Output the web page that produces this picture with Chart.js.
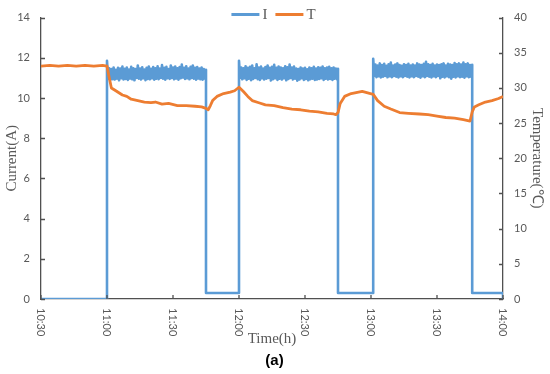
<!DOCTYPE html>
<html>
<head>
<meta charset="utf-8">
<script src="https://cdn.jsdelivr.net/npm/chart.js@4"></script>
<style>
html, body { margin: 0; padding: 0; background: #fff; }
#wrap { width: 550px; height: 374px; }
</style>
</head>
<body>
<div id="wrap"><canvas id="myChart"></canvas></div>
<script>
// x axis in minutes after midnight, 10:30 .. 14:00
var timeTicks = ['10:30', '11:00', '11:30', '12:00', '12:30', '13:00', '13:30', '14:00'];
var xMin = 630, xMax = 840;

// current (A): three on-bursts sampled every half minute, low level between them
var burstStarts = [660, 720, 781];
var sampleStep = 0.5;
var offLevel = 0.3;
var burst1 = [
  11.85, 10.95, 11.48, 10.90, 11.44, 10.94, 11.52, 10.92, 11.40, 10.96,
  11.50, 10.88, 11.46, 10.98, 11.56, 10.92, 11.45, 10.95, 11.52, 10.90,
  11.42, 10.97, 11.55, 10.93, 11.48, 10.88, 11.44, 11.00, 11.62, 10.96,
  11.46, 10.92, 11.53, 10.98, 11.42, 10.89, 11.50, 10.95, 11.57, 10.93,
  11.45, 10.98, 11.54, 10.91, 11.48, 10.96, 11.58, 10.94, 11.46, 11.00,
  11.64, 10.96, 11.50, 10.91, 11.55, 10.98, 11.44, 10.95, 11.62, 11.00,
  11.52, 10.93, 11.57, 10.97, 11.48, 10.91, 11.54, 10.98, 11.66, 11.02,
  11.50, 10.95, 11.58, 10.98, 11.46, 10.93, 11.55, 11.00, 11.62, 10.96,
  11.50, 10.91, 11.54, 10.97, 11.46, 10.93, 11.52, 10.91, 11.44, 10.96, 11.40
];
var burst2 = [
  11.85, 11.00, 11.52, 10.93, 11.48, 10.98, 11.58, 10.90, 11.50, 10.96,
  11.55, 10.89, 11.62, 10.95, 11.48, 11.00, 11.68, 10.94, 11.52, 10.90,
  11.56, 10.98, 11.46, 10.92, 11.54, 10.96, 11.62, 11.00, 11.50, 10.87,
  11.55, 10.94, 11.65, 10.98, 11.50, 10.90, 11.57, 10.96, 11.52, 10.92,
  11.48, 10.98, 11.58, 10.88, 11.53, 10.95, 11.66, 11.00, 11.51, 10.92,
  11.56, 10.96, 11.47, 10.86, 11.44, 10.92, 11.52, 10.98, 11.46, 10.90,
  11.50, 10.95, 11.43, 10.88, 11.52, 10.94, 11.48, 10.96, 11.55, 10.90,
  11.46, 10.92, 11.53, 10.95, 11.50, 10.98, 11.57, 10.90, 11.48, 10.96,
  11.52, 10.92, 11.55, 10.95, 11.48, 10.90, 11.52, 10.96, 11.46, 10.94, 11.45
];
var burst3 = [
  11.95, 11.10, 11.66, 11.04, 11.62, 11.08, 11.72, 11.02, 11.64, 11.06,
  11.70, 11.10, 11.60, 11.03, 11.68, 11.08, 11.76, 11.04, 11.62, 11.10,
  11.66, 11.06, 11.72, 11.02, 11.64, 11.08, 11.60, 11.04, 11.68, 11.10,
  11.64, 11.06, 11.70, 11.02, 11.62, 11.08, 11.67, 11.04, 11.62, 11.10,
  11.72, 11.06, 11.66, 11.01, 11.64, 11.08, 11.70, 11.04, 11.80, 11.10,
  11.68, 11.06, 11.64, 11.02, 11.70, 11.08, 11.62, 11.04, 11.67, 11.10,
  11.64, 10.98, 11.68, 11.06, 11.72, 11.02, 11.62, 11.08, 11.70, 11.04,
  11.66, 10.96, 11.64, 11.06, 11.74, 11.02, 11.68, 11.08, 11.72, 11.04,
  11.66, 11.06, 11.76, 11.01, 11.68, 11.08, 11.72, 11.04, 11.64, 11.06, 11.65
];

// temperature (deg C)
var tTimes = [630, 634, 638, 642, 646, 650, 654, 658, 660, 661, 662, 664, 667, 669, 671, 674, 677, 680, 682, 685,
  688, 692, 696, 700, 703, 705, 706, 707, 708, 710, 713, 716, 718, 720, 722, 724, 726, 729, 732, 736,
  740, 744, 748, 752, 756, 760, 763, 764, 765, 766, 768, 771, 776, 781, 783, 786, 789, 793, 797, 802,
  806, 810, 814, 818, 822, 825, 826, 827, 829, 832, 835, 838, 840];
var tVals = [33.1, 33.2, 33.1, 33.2, 33.1, 33.2, 33.1, 33.2, 33.1, 31.5, 30.0, 29.6, 29.0, 28.8, 28.4, 28.2, 28.0, 27.9, 28.0, 27.7,
  27.8, 27.5, 27.5, 27.4, 27.3, 27.1, 26.9, 27.5, 28.2, 28.8, 29.2, 29.4, 29.6, 30.1, 29.5, 28.8, 28.2, 27.9, 27.6, 27.5,
  27.2, 27.0, 26.9, 26.7, 26.6, 26.4, 26.3, 26.2, 26.5, 27.8, 28.8, 29.2, 29.5, 29.1, 28.2, 27.4, 27.0, 26.5, 26.4, 26.3,
  26.2, 26.0, 25.8, 25.7, 25.5, 25.3, 26.6, 27.3, 27.6, 28.0, 28.2, 28.5, 28.8];

var curTicks = [0, 2, 4, 6, 8, 10, 12, 14];
var tempTicks = [0, 5, 10, 15, 20, 25, 30, 35, 40];

var blue = '#5B9BD5', orange = '#ED7D31', axisGrey = '#505050', textGrey = '#595959';

function buildCurrent() {
  var pts = [{x: xMin, y: 0}, {x: burstStarts[0], y: 0}];
  var bursts = [burst1, burst2, burst3];
  for (var b = 0; b < bursts.length; b++) {
    var s = burstStarts[b];
    if (b > 0) pts.push({x: s, y: offLevel});
    for (var k = 0; k < bursts[b].length; k++) {
      pts.push({x: s + k * sampleStep, y: bursts[b][k]});
    }
    pts.push({x: s + (bursts[b].length - 1) * sampleStep, y: offLevel});
  }
  pts.push({x: xMax, y: offLevel});
  pts.push({x: xMax, y: 0});
  return pts;
}

function buildTemp() {
  return tTimes.map(function (t, i) { return {x: t, y: tVals[i]}; });
}

var overlay = {
  id: 'overlay',
  afterDraw: function (chart) {
    var ctx = chart.ctx, area = chart.chartArea;
    var xs = chart.scales.x, yl = chart.scales.y, yr = chart.scales.y1;
    ctx.save();
    // inside tick marks
    ctx.strokeStyle = axisGrey;
    ctx.lineWidth = 1.3;
    ctx.beginPath();
    curTicks.forEach(function (v) {
      var y = Math.round(yl.getPixelForValue(v)) + 0.5;
      ctx.moveTo(area.left, y); ctx.lineTo(area.left + 4, y);
    });
    tempTicks.forEach(function (v) {
      var y = Math.round(yr.getPixelForValue(v)) + 0.5;
      ctx.moveTo(area.right, y); ctx.lineTo(area.right - 4, y);
    });
    xs.ticks.forEach(function (t) {
      var x = xs.getPixelForValue(t.value);
      ctx.moveTo(x, area.bottom); ctx.lineTo(x, area.bottom - 4);
    });
    ctx.stroke();

    // x tick labels, rotated to read downward
    ctx.fillStyle = textGrey;
    ctx.font = '11px Lato';
    ctx.textAlign = 'left';
    ctx.textBaseline = 'middle';
    xs.ticks.forEach(function (t, i) {
      var x = xs.getPixelForValue(t.value);
      ctx.save();
      ctx.translate(x, area.bottom + 9);
      ctx.rotate(Math.PI / 2);
      ctx.fillText(timeTicks[i], 0, 0);
      ctx.restore();
    });

    // legend
    ctx.font = '15px "Liberation Serif"';
    var lineW = 28, gap = 3, itemGap = 8;
    var items = chart.data.datasets.map(function (d) {
      return {label: d.label, color: d.borderColor, w: ctx.measureText(d.label).width};
    });
    var total = 0;
    items.forEach(function (it, i) { total += lineW + gap + it.w + (i ? itemGap : 0); });
    var lx = (area.left + area.right) / 2 - total / 2 + 1.5, ly = 14.5;
    items.forEach(function (it) {
      ctx.strokeStyle = it.color;
      ctx.lineWidth = 3;
      ctx.beginPath();
      ctx.moveTo(lx, ly); ctx.lineTo(lx + lineW, ly);
      ctx.stroke();
      ctx.fillStyle = textGrey;
      ctx.fillText(it.label, lx + lineW + gap, ly + 1);
      lx += lineW + gap + it.w + itemGap;
    });
    ctx.restore();
  }
};

var ctx = document.getElementById('myChart');
var myChart = new Chart(ctx, {
  type: 'line',
  data: {
    datasets: [{
      label: 'I',
      data: buildCurrent(),
      borderColor: blue,
      backgroundColor: blue,
      borderWidth: 2.6,
      borderJoinStyle: 'round',
      pointRadius: 0,
      tension: 0,
      yAxisID: 'y',
      order: 1
    }, {
      label: 'T',
      data: buildTemp(),
      borderColor: orange,
      backgroundColor: orange,
      borderWidth: 2.8,
      borderJoinStyle: 'round',
      pointRadius: 0,
      tension: 0,
      yAxisID: 'y1',
      order: 0
    }]
  },
  options: {
    responsive: true,
    maintainAspectRatio: false,
    animation: false,
    layout: { padding: { top: 13, left: 3, right: 4, bottom: 0 } },
    plugins: {
      legend: { display: false },
      tooltip: { enabled: false },
      title: {
        display: true,
        text: '(a)',
        position: 'bottom',
        color: '#000',
        font: { family: 'Liberation Sans', size: 15, weight: 'bold' },
        padding: { top: 4, bottom: 4 }
      }
    },
    scales: {
      x: {
        type: 'linear',
        min: xMin,
        max: xMax,
        ticks: { display: false, stepSize: 30 },
        grid: { drawOnChartArea: false, drawTicks: false },
        border: { color: axisGrey, width: 1.3 },
        title: {
          display: true,
          text: 'Time(h)',
          color: textGrey,
          font: { family: 'Liberation Serif', size: 15 },
          padding: 0
        },
        afterFit: function (s) { s.height = 49; }
      },
      y: {
        position: 'left',
        min: 0,
        max: 14,
        ticks: { stepSize: 2, padding: 11, color: textGrey, font: { family: 'Lato', size: 11 } },
        grid: { drawOnChartArea: false, drawTicks: false },
        border: { color: axisGrey, width: 1.3 },
        title: {
          display: true,
          text: 'Current(A)',
          color: textGrey,
          font: { family: 'Liberation Serif', size: 15 },
          padding: 0
        },
        afterFit: function (s) { s.width = 38; }
      },
      y1: {
        position: 'right',
        min: 0,
        max: 40,
        ticks: { stepSize: 5, padding: 11, color: textGrey, font: { family: 'Lato', size: 11 } },
        grid: { drawOnChartArea: false, drawTicks: false },
        border: { color: axisGrey, width: 1.3 },
        title: {
          display: true,
          text: 'Temperature(℃)',
          color: textGrey,
          font: { family: 'Liberation Serif', size: 15 },
          padding: 0
        },
        afterFit: function (s) { s.width = 43; }
      }
    }
  },
  plugins: [overlay]
});
</script>
</body>
</html>
